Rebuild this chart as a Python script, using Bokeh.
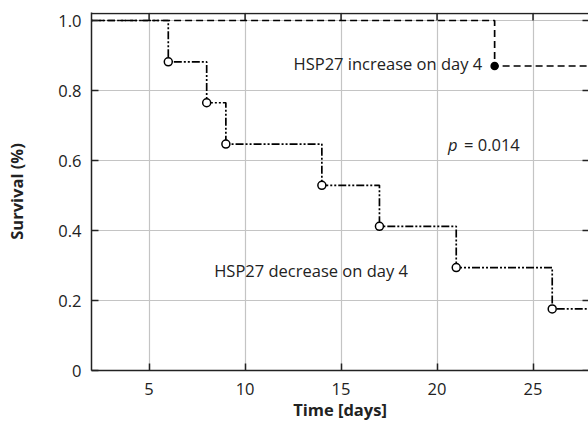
import math
from bokeh.plotting import figure
from bokeh.models import Label, FixedTicker, Range1d, Span
from bokeh.embed import file_html
from bokeh.resources import INLINE

# Data
dec_time = [0, 6, 8, 9, 14, 17, 21, 26, 30]
dec_surv = [1.0, 0.882, 0.765, 0.647, 0.529, 0.412, 0.294, 0.176, 0.176]
dec_event_time = [6, 8, 9, 14, 17, 21, 26]
dec_event_surv = [0.882, 0.765, 0.647, 0.529, 0.412, 0.294, 0.176]

inc_time = [0, 23, 30]
inc_surv = [1.0, 0.87, 0.87]
inc_event_time = [23]
inc_event_surv = [0.87]

x_ticks = [5, 10, 15, 20, 25]
y_ticks = [0, 0.2, 0.4, 0.6, 0.8, 1.0]
y_tick_labels = ["0", "0.2", "0.4", "0.6", "0.8", "1.0"]

X0, X1 = 2, 27.89
Y0, Y1 = 0, 1.0229
TOP_LINE = 1.02

FONT = "Open Sans"
FS = "16.5px"

p = figure(width=588, height=428, x_range=Range1d(X0, X1), y_range=Range1d(Y0, Y1),
           output_backend="svg", toolbar_location=None,
           min_border_left=91, min_border_right=0, min_border_top=12, min_border_bottom=58)
p.outline_line_color = None
p.background_fill_color = "white"
p.border_fill_color = "white"

def style_axis(ax):
    ax.axis_line_color = "#222222"
    ax.axis_line_width = 1.5
    ax.major_tick_line_color = "#222222"
    ax.major_tick_line_width = 1.5
    ax.major_tick_in = 7
    ax.major_tick_out = 0
    ax.minor_tick_line_color = None
    ax.major_label_text_font = FONT
    ax.major_label_text_font_size = FS
    ax.major_label_text_color = "#222222"
    ax.axis_label_text_font = FONT
    ax.axis_label_text_font_size = FS
    ax.axis_label_text_font_style = "bold"
    ax.axis_label_text_color = "#222222"

xa = p.xaxis[0]
xa.ticker = FixedTicker(ticks=x_ticks)
style_axis(xa)
xa.major_label_standoff = 12
xa.axis_label = "Time [days]"
xa.axis_label_standoff = 0

ya = p.yaxis[0]
ya.ticker = FixedTicker(ticks=y_ticks)
ya.major_label_overrides = {t: l for t, l in zip(y_ticks, y_tick_labels)}
style_axis(ya)
ya.major_label_standoff = 10
ya.axis_label = "Survival (%)"
ya.axis_label_standoff = 27

p.xgrid.ticker = FixedTicker(ticks=x_ticks)
p.ygrid.ticker = FixedTicker(ticks=y_ticks)
p.grid.grid_line_color = "#c4c4c4"
p.grid.grid_line_width = 1.2

# Top frame line and inward ticks on top / right edges
p.add_layout(Span(location=TOP_LINE, dimension="width", line_color="#222222", line_width=1.5))
p.ray(x=x_ticks, y=[TOP_LINE] * len(x_ticks), length=7, length_units="screen",
      angle=-math.pi / 2, line_color="#222222", line_width=1.5)
p.ray(x=[X1] * len(y_ticks), y=y_ticks, length=6, length_units="screen",
      angle=math.pi, line_color="#222222", line_width=1.5)

# Curves
p.step(dec_time, dec_surv, mode="after", line_color="black", line_width=1.7,
       line_dash="8 2 2 2 2 2")
p.step(inc_time, inc_surv, mode="after", line_color="black", line_width=1.7,
       line_dash="7 4")
p.scatter(dec_event_time, dec_event_surv, size=8, fill_color="white",
          line_color="black", line_width=1.5)
p.scatter(inc_event_time, inc_event_surv, size=7, fill_color="black",
          line_color="black", line_width=1.5)

def lab(x, y, text, align="left", style="normal", xo=0):
    p.add_layout(Label(x=x, y=y, text=text, text_align=align, text_baseline="middle",
                       text_font=FONT, text_font_size=FS, text_font_style=style,
                       text_color="#222222", x_offset=xo))

lab(22.35, 0.877, "HSP27 increase on day 4", align="right")
lab(20.57, 0.646, "p", style="italic")
lab(20.57, 0.646, "= 0.014", xo=16)
lab(8.39, 0.286, "HSP27 decrease on day 4")

open("out.html", "w").write(file_html(p, INLINE))
